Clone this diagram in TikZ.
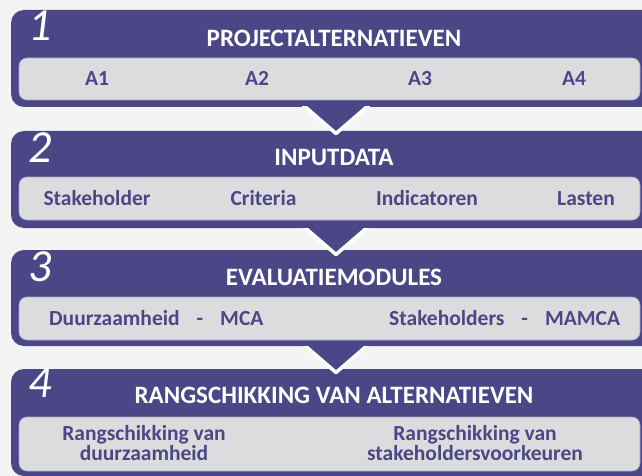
\documentclass[tikz,border=0pt]{standalone}
\usepackage{fontspec}
\setmainfont{Carlito}
\usetikzlibrary{calc}
\definecolor{pur}{HTML}{4B4787}
\definecolor{lgray}{HTML}{DCDCDE}
\definecolor{bgc}{HTML}{F4F4F4}
\definecolor{edgec}{HTML}{A9A6C8}
\begin{document}
\begin{tikzpicture}[x=1pt,y=-1pt,
  stagebox/.style={fill=pur, rounded corners=13pt, minimum width=650pt, anchor=north west, inner sep=0pt, outer sep=0pt},
  innerbox/.style={fill=lgray, draw=edgec, line width=0.6pt, rounded corners=8pt, minimum width=621pt, anchor=north west, inner sep=0pt, outer sep=0pt},
  titletext/.style={text=white, font=\bfseries\fontsize{25}{29}\selectfont, inner sep=0pt, anchor=base},
  labeltext/.style={text=pur, font=\bfseries\fontsize{21.5}{25}\selectfont, inner sep=0pt, anchor=base},
  twoline/.style={text=pur, font=\bfseries\fontsize{21.5}{16.7}\selectfont, inner sep=0pt, align=center, anchor=base},
  numtext/.style={text=white, font=\itshape\fontsize{46}{50}\selectfont, inner sep=0pt, anchor=north west},
  pointer/.style={fill=pur},
  pointeredge/.style={draw=white, line width=3.6pt, line join=round},
]
\useasboundingbox (0,0) rectangle (642,476);
\clip (0,0) rectangle (642,476);
\fill[bgc] (0,0) rectangle (642,476);

% stage boxes
\node[stagebox, minimum height=97pt] (b1) at (11,10) {};
\node[innerbox, minimum height=42pt] (g1) at (19,58) {};
\node[stagebox, minimum height=97pt] (b2) at (11,131) {};
\node[innerbox, minimum height=43pt] (g2) at (19,177) {};
\node[stagebox, minimum height=96pt] (b3) at (11,250) {};
\node[innerbox, minimum height=43pt] (g3) at (19,297) {};
\node[stagebox, minimum height=107pt] (b4) at (11,369) {};
\node[innerbox, minimum height=54pt] (g4) at (19,417) {};

% pointers between stages
\foreach \a in {b1,b2,b3}{
  \fill[pointer] ($(\a.south)+(-31,-3)$) -- ($(\a.south)+(0,26.5)$) -- ($(\a.south)+(31,-3)$) -- cycle;
  \begin{scope}
    \clip ($(\a.south)+(-50,0)$) rectangle ($(\a.south)+(50,40)$);
    \draw[pointeredge] ($(\a.south)+(-33,-2)$) -- ($(\a.south)+(0,26.5)$) -- ($(\a.south)+(33,-2)$);
  \end{scope}
}

% numbers
\node[numtext] (n1) at (28,11) {1};
\node[numtext] (n2) at (28,132) {2};
\node[numtext] (n3) at (28,251) {3};
\node[numtext] (n4) at (28,368) {4};

% titles
\node[titletext] (t1) at (334,46.5) {PROJECTALTERNATIEVEN};
\node[titletext] (t2) at (334,165.5) {INPUTDATA};
\node[titletext] (t3) at (334,285) {EVALUATIEMODULES};
\node[titletext] (t4) at (334,403.5) {RANGSCHIKKING VAN ALTERNATIEVEN};

% stage 1 labels
\node[labeltext] (a1) at (97,86) {A1};
\node[labeltext] (a2) at (257,86) {A2};
\node[labeltext] (a3) at (420,86) {A3};
\node[labeltext] (a4) at (574,86) {A4};

% stage 2 labels
\node[labeltext] (i1) at (97,205.5) {Stakeholder};
\node[labeltext] (i2) at (263.5,205.5) {Criteria};
\node[labeltext] (i3) at (427,205.5) {Indicatoren};
\node[labeltext] (i4) at (586,205.5) {Lasten};

% stage 3 labels
\node[labeltext, anchor=base west] (e1) at (49,325.3) {Duurzaamheid\hspace{17pt}-\hspace{17pt}MCA};
\node[labeltext, anchor=base west] (e2) at (389,325.3) {Stakeholders\hspace{17pt}-\hspace{17pt}MAMCA};

% stage 4 labels
\node[twoline] (r1) at (144,460.7) {Rangschikking van\\duurzaamheid};
\node[twoline] (r2) at (475,460.7) {Rangschikking van\\stakeholdersvoorkeuren};
\end{tikzpicture}
\end{document}
